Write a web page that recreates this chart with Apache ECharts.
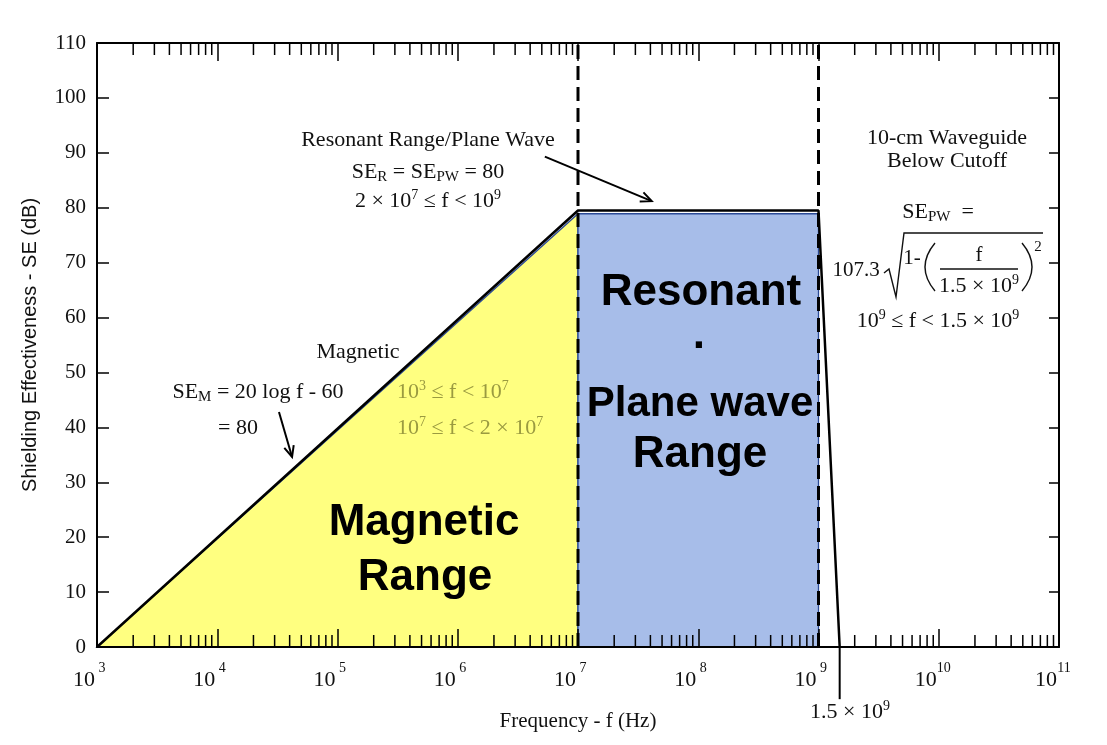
<!DOCTYPE html>
<html><head><meta charset="utf-8">
<script src="https://cdn.jsdelivr.net/npm/echarts@6/dist/echarts.min.js"></script>
<style>html,body{margin:0;padding:0;background:#fff}#c{width:1107px;height:745px}</style>
</head><body><div id="c"></div>
<script>
// ---- data ----
const decadeExponents = [3, 4, 5, 6, 7, 8, 9, 10, 11];
const minorMultipliers = [2, 3, 4, 5, 6, 7, 8, 9];
const yMin = 0, yMax = 110, yStep = 10;
const seCurve = [[1e3, 0], [1e7, 79.5], [1e9, 79.5], [1.5e9, 0]];
const magneticRegion = [[1e3, 0], [1e7, 78.9], [1e7, 0]];
const resonantRegion = [[1e7, 0], [1e7, 78.9], [1e9, 78.9], [1e9, 0]];
const boundaryFreqs = [1e7, 1e9];
const cutoffLeader = [[1.5e9, 0], [1.5e9, -9.5]];
const arrows = [
  [[5.3e6, 89.3], [4.1e7, 81.2]],
  [[3.26e4, 42.8], [4.19e4, 34.6]]
];

const minorTickValues = [];
decadeExponents.slice(0, -1).forEach(e => minorMultipliers.forEach(m => minorTickValues.push([m * Math.pow(10, e), 0])));

const SERIF = "'Liberation Serif', 'Times New Roman', serif";
const SANS = "'Liberation Sans', Arial, sans-serif";

const chart = echarts.init(document.getElementById('c'));

function polySeries(points, color) {
  return {
    type: 'custom', coordinateSystem: 'cartesian2d', xAxisIndex: 0, yAxisIndex: 0,
    data: [points[0]], z: 1, silent: true,
    renderItem: (p, api) => ({
      type: 'polygon',
      shape: { points: points.map(pt => api.coord(pt)) },
      style: { fill: color, stroke: '#2b4a96', lineWidth: 1.3 }
    })
  };
}

const richBase = {
  a: { fontSize: 22, fontFamily: SERIF, lineHeight: 26 },
  s: { fontSize: 15, fontFamily: SERIF, lineHeight: 14, verticalAlign: 'bottom' },
  p: { fontSize: 14, fontFamily: SERIF, lineHeight: 12, verticalAlign: 'top' }
};
function rich(color) {
  const r = {};
  Object.keys(richBase).forEach(k => { r[k] = Object.assign({}, richBase[k], { fill: color }); });
  return r;
}
function T(x, y, text, opt) {
  opt = opt || {};
  const color = opt.color || '#111';
  return {
    type: 'text', x: x, y: y, z: 100, silent: true,
    style: {
      text: text,
      fontSize: opt.size || 22,
      fontFamily: opt.family || SERIF,
      fontWeight: opt.weight || 'normal',
      fill: color,
      align: opt.align || 'center',
      verticalAlign: 'middle',
      rich: rich(color)
    }
  };
}
const thin = { stroke: '#111', lineWidth: 1.4, fill: null };

const graphics = [
  T(428, 140, 'Resonant Range/Plane Wave'),
  T(428, 172, '{a|SE}{s|R}{a| = SE}{s|PW}{a| = 80}'),
  T(428, 201, '{a|2 × 10}{p|7}{a| ≤ f < 10}{p|9}'),
  T(947, 138, '10-cm Waveguide'),
  T(947, 161, 'Below Cutoff'),
  T(938, 212, '{a|SE}{s|PW}{a|  =}'),
  T(856, 270, '107.3', { size: 21 }),
  T(912, 258, '1-', { size: 21 }),
  T(979, 255, 'f', { size: 21 }),
  T(979, 286, '{a|1.5 × 10}{p|9}'),
  T(1038, 247, '2', { size: 15 }),
  T(938, 321, '{a|10}{p|9}{a| ≤ f < 1.5 × 10}{p|9}'),
  T(358, 352, 'Magnetic'),
  T(258, 392, '{a|SE}{s|M}{a| = 20 log f - 60}'),
  T(238, 428, '= 80'),
  T(397, 392, '{a|10}{p|3}{a| ≤ f < 10}{p|7}', { align: 'left', color: '#9a9a40' }),
  T(397, 428, '{a|10}{p|7}{a| ≤ f < 2 × 10}{p|7}', { align: 'left', color: '#9a9a40' }),
  T(424, 523, 'Magnetic', { size: 44, family: SANS, weight: 'bold', color: '#000' }),
  T(425, 578, 'Range', { size: 44, family: SANS, weight: 'bold', color: '#000' }),
  T(701, 293, 'Resonant', { size: 44, family: SANS, weight: 'bold', color: '#000' }),
  T(700, 348, '·', { size: 44, family: SANS, weight: 'bold', color: '#000' }),
  T(700, 404, 'Plane wave', { size: 42, family: SANS, weight: 'bold', color: '#000' }),
  T(700, 455, 'Range', { size: 44, family: SANS, weight: 'bold', color: '#000' }),
  T(850, 712, '{a|1.5 × 10}{p|9}'),
  { type: 'polyline', z: 100, silent: true,
    shape: { points: [[884, 273], [889, 269], [896, 297], [904, 233], [1043, 233]] }, style: thin },
  { type: 'line', z: 100, silent: true,
    shape: { x1: 940, y1: 269, x2: 1018, y2: 269 }, style: thin },
  { type: 'bezierCurve', z: 100, silent: true,
    shape: { x1: 935, y1: 243, cpx1: 915, cpy1: 267, x2: 935, y2: 291 }, style: thin },
  { type: 'bezierCurve', z: 100, silent: true,
    shape: { x1: 1022, y1: 243, cpx1: 1042, cpy1: 267, x2: 1022, y2: 291 }, style: thin }
];

const option = {
  backgroundColor: '#fff',
  animation: false,
  grid: { left: 97, right: 48, top: 43, bottom: 98 },
  xAxis: [
    {
      type: 'log', logBase: 10, min: 1e3, max: 1e11, splitNumber: 8, position: 'bottom', z: 10,
      axisLine: { onZero: false, lineStyle: { color: '#000', width: 2 } },
      axisTick: { inside: true, length: 18, lineStyle: { color: '#000', width: 1.5 } },
      splitLine: { show: false },
      axisLabel: {
        margin: 14, padding: [0, 12, 0, 0], color: '#111',
        formatter: v => '{b|10}{e|' + Math.round(Math.log10(v)) + '}',
        rich: {
          b: { fontSize: 22, fontFamily: SERIF, lineHeight: 30, verticalAlign: 'bottom', color: '#111' },
          e: { fontSize: 14, fontFamily: SERIF, lineHeight: 12, verticalAlign: 'top', width: 14, align: 'left', color: '#111' }
        }
      },
      name: 'Frequency - f (Hz)', nameLocation: 'middle', nameGap: 64,
      nameTextStyle: { fontSize: 21, fontFamily: SERIF, color: '#111' }
    },
    {
      type: 'log', logBase: 10, min: 1e3, max: 1e11, splitNumber: 8, position: 'top', z: 10,
      axisLine: { onZero: false, lineStyle: { color: '#000', width: 2 } },
      axisTick: { inside: true, length: 18, lineStyle: { color: '#000', width: 1.5 } },
      splitLine: { show: false },
      axisLabel: { show: false }
    }
  ],
  yAxis: [
    {
      type: 'value', min: yMin, max: yMax, interval: yStep, position: 'left', z: 10,
      axisLine: { show: true, onZero: false, lineStyle: { color: '#000', width: 2 } },
      axisTick: { show: true, inside: true, length: 12, lineStyle: { color: '#000', width: 1.5 } },
      splitLine: { show: false },
      axisLabel: { margin: 11, fontSize: 21, fontFamily: SERIF, color: '#111' },
      name: 'Shielding Effectiveness - SE (dB)', nameLocation: 'middle', nameGap: 57,
      nameTextStyle: { fontSize: 20, fontFamily: SANS, color: '#111' }
    },
    {
      type: 'value', min: yMin, max: yMax, interval: yStep, position: 'right', z: 10,
      axisLine: { show: true, onZero: false, lineStyle: { color: '#000', width: 2 } },
      axisTick: { show: true, inside: true, length: 10, lineStyle: { color: '#000', width: 1.5 } },
      splitLine: { show: false },
      axisLabel: { show: false }
    }
  ],
  series: [
    polySeries(magneticRegion, '#ffff80'),
    polySeries(resonantRegion, '#a7bde9'),
    {
      type: 'custom', coordinateSystem: 'cartesian2d', xAxisIndex: 0, yAxisIndex: 0, z: 8, silent: true,
      data: minorTickValues,
      renderItem: (params, api) => {
        const v = api.value(0);
        const b = api.coord([v, yMin]), t = api.coord([v, yMax]);
        const st = { stroke: '#000', lineWidth: 1.5 };
        return {
          type: 'group', children: [
            { type: 'line', shape: { x1: b[0], y1: b[1], x2: b[0], y2: b[1] - 12 }, style: st },
            { type: 'line', shape: { x1: t[0], y1: t[1], x2: t[0], y2: t[1] + 12 }, style: st }
          ]
        };
      }
    },
    {
      type: 'line', xAxisIndex: 0, yAxisIndex: 0, data: seCurve, symbol: 'none', z: 5, silent: true,
      lineStyle: { color: '#000', width: 2.5 }
    },
    ...boundaryFreqs.map(f => ({
      type: 'line', xAxisIndex: 0, yAxisIndex: 0, data: [[f, yMin], [f, yMax]], symbol: 'none', z: 6, silent: true,
      lineStyle: { color: '#000', width: 3, type: [14, 7] }
    })),
    {
      type: 'line', xAxisIndex: 0, yAxisIndex: 0, data: cutoffLeader, symbol: 'none', z: 6, clip: false, silent: true,
      lineStyle: { color: '#000', width: 2 }
    },
    {
      type: 'custom', coordinateSystem: 'cartesian2d', xAxisIndex: 0, yAxisIndex: 0, z: 7, silent: true, clip: false,
      data: arrows.map(a => a[0]),
      renderItem: (params, api) => {
        const a = arrows[params.dataIndex];
        const p0 = api.coord(a[0]), p1 = api.coord(a[1]);
        const ang = Math.atan2(p1[1] - p0[1], p1[0] - p0[0]);
        const L = 12, w = 0.42;
        const h1 = [p1[0] - L * Math.cos(ang - w), p1[1] - L * Math.sin(ang - w)];
        const h2 = [p1[0] - L * Math.cos(ang + w), p1[1] - L * Math.sin(ang + w)];
        const st = { stroke: '#000', lineWidth: 2, fill: null };
        return {
          type: 'group', children: [
            { type: 'line', shape: { x1: p0[0], y1: p0[1], x2: p1[0], y2: p1[1] }, style: st },
            { type: 'polyline', shape: { points: [h1, p1, h2] }, style: st }
          ]
        };
      }
    }
  ],
  graphic: graphics
};
chart.setOption(option);
</script>
</body></html>
